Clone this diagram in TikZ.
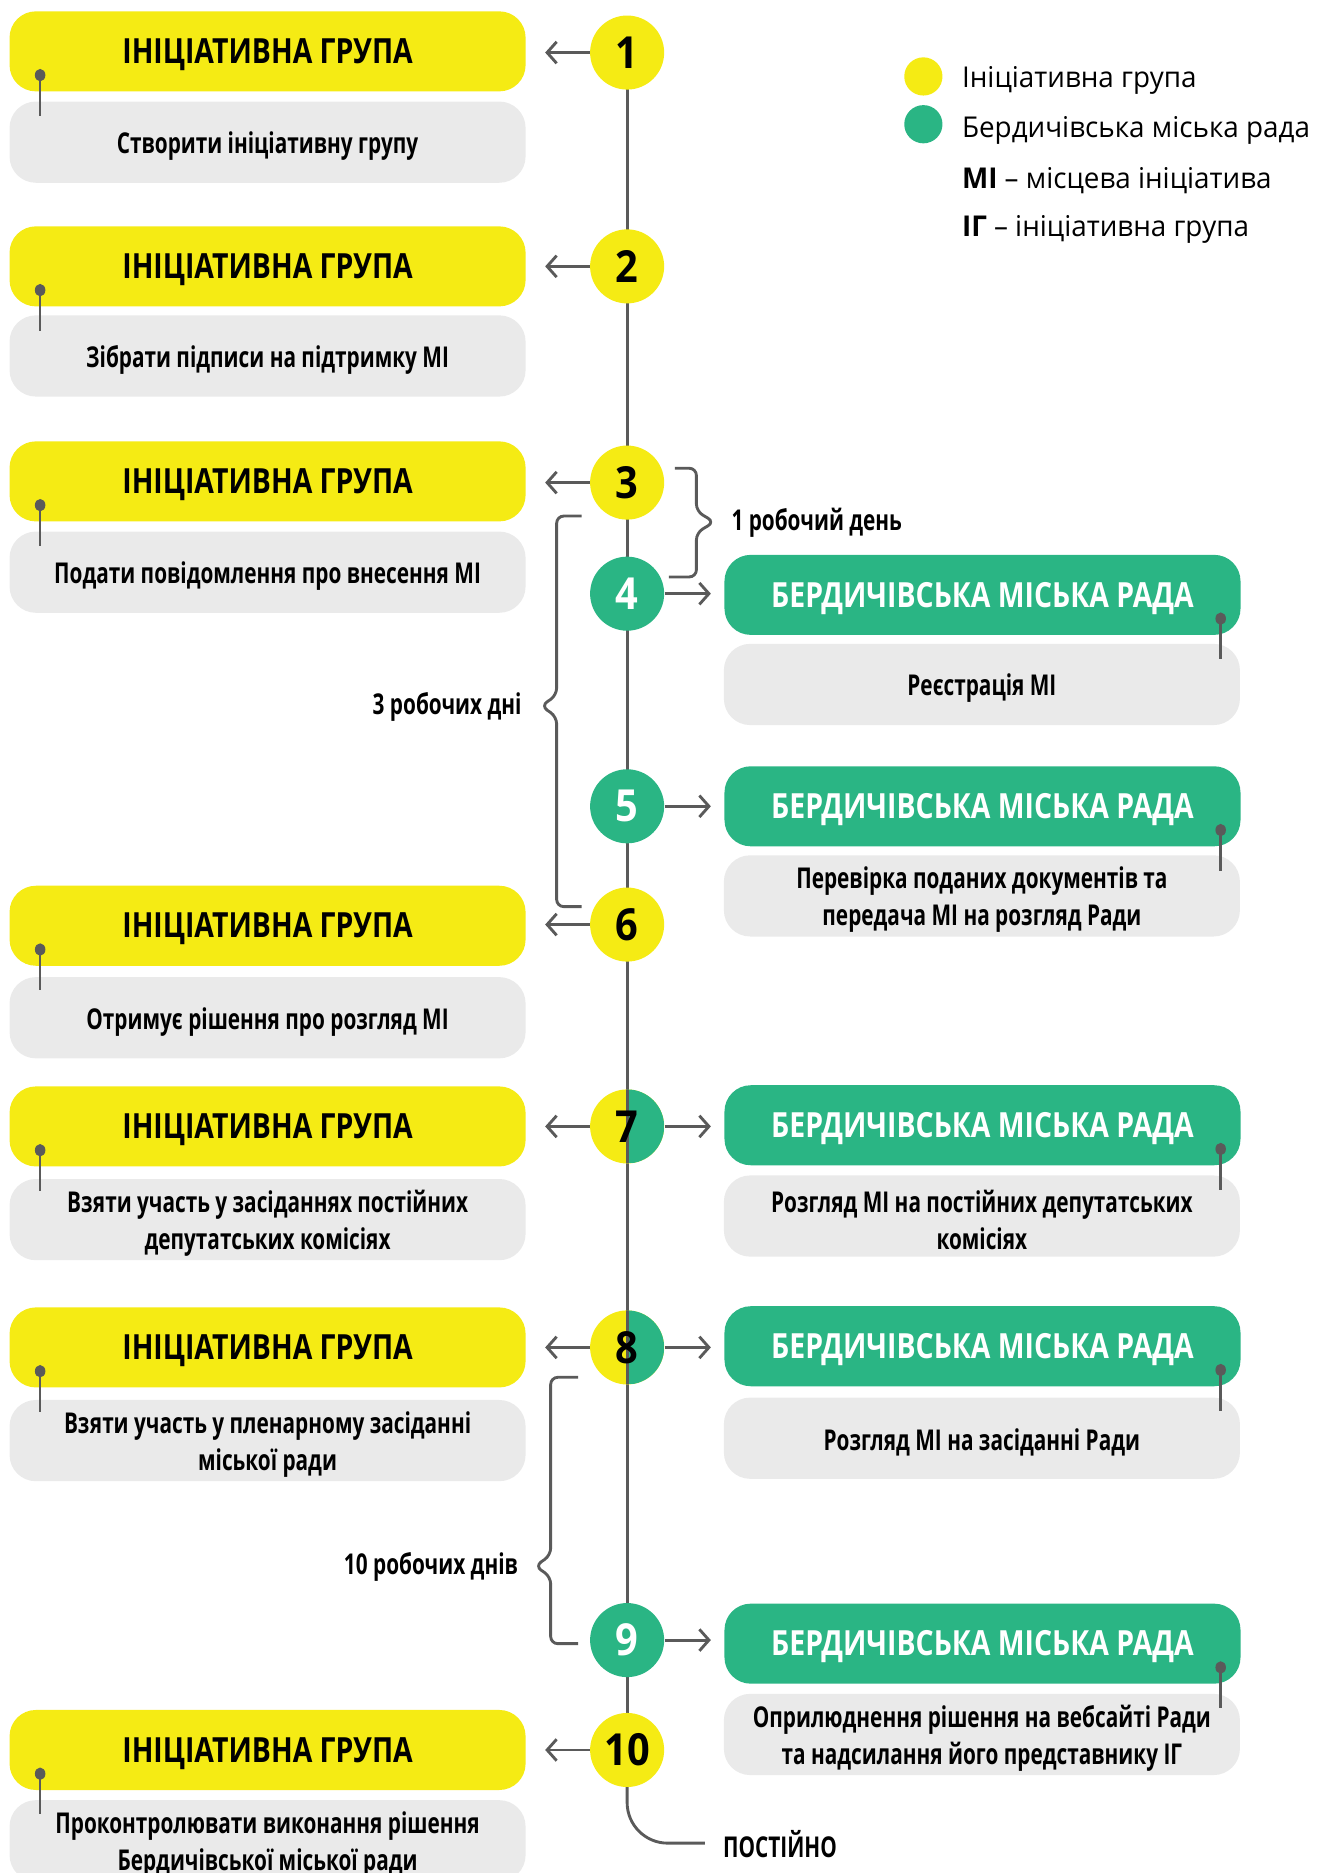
\documentclass[tikz,border=0pt]{standalone}
\usepackage{fontspec}
\setmainfont{Open Sans}
\newfontfamily\hdrfont[FakeStretch=0.82]{Open Sans}
\newfontfamily\bodyfont[FakeStretch=0.725]{Open Sans}
\newfontfamily\numfont[FakeStretch=0.9]{Open Sans}
\newfontfamily\legfont[FakeStretch=0.97]{Open Sans}
\usetikzlibrary{arrows.meta,calc}
\definecolor{ylw}{RGB}{245,235,20}
\definecolor{grn}{RGB}{42,181,132}
\definecolor{lgray}{RGB}{234,234,234}
\definecolor{ln}{RGB}{90,90,90}
\tikzset{
  hdr/.style={rounded corners=11pt, minimum width=216pt, minimum height=33.5pt, inner sep=0pt,
    text height=10.2pt, text depth=0pt,
    font=\hdrfont\bfseries\fontsize{14.5}{17}\selectfont},
  ybox/.style={hdr, fill=ylw, text=black},
  gbox/.style={hdr, fill=grn, text=white},
  desc/.style={rounded corners=11pt, fill=lgray, minimum width=216pt, minimum height=34pt, inner sep=0pt},
  dtext/.style={inner sep=0pt, align=center, yshift=-1.7pt,
    font=\bodyfont\bfseries\fontsize{12}{15.5}\selectfont},
  num/.style={circle, minimum size=31pt, inner sep=0pt, font=\numfont\bfseries\fontsize{18.5}{20}\selectfont},
  ynum/.style={num, fill=ylw, text=black},
  gnum/.style={num, fill=grn, text=white},
  hnum/.style={num, fill=ylw, text=black, path picture={
      \fill[grn] (path picture bounding box.north) rectangle (path picture bounding box.south east);
      \draw[tl] (path picture bounding box.north) -- (path picture bounding box.south);}},
  tl/.style={draw=ln, line width=1.2pt},
  arr/.style={draw=ln, line width=1.2pt, -{Straight Barb[length=4pt,width=9pt,line width=1.2pt]}},
  brace/.style={draw=ln, line width=1.2pt, rounded corners=3pt},
  pinl/.style={draw=ln, line width=1.1pt},
  lbl/.style={font=\bodyfont\bfseries\fontsize{12}{15}\selectfont, inner sep=0pt},
  leg/.style={font=\legfont\fontsize{12}{15}\selectfont, inner sep=0pt, anchor=west},
}
\begin{document}
\begin{tikzpicture}[x=0.5pt,y=-0.5pt]
\useasboundingbox (0,0) rectangle (1109,1568);
\clip (0,0) rectangle (1109,1568);

% timeline (behind circles)
\coordinate (t1) at (525,44);
\coordinate (t10) at (525,1465);
\draw[tl] (t1) -- (t10);
\coordinate (post) at (590,1543);
\draw[tl, rounded corners=17pt] (t10) |- (post);

% circles
\node[ynum] (c1) at (525,44) {1};
\node[ynum] (c2) at (525,223) {2};
\node[ynum] (c3) at (525,404) {3};
\node[gnum] (c4) at (525,497) {4};
\node[gnum] (c5) at (525,675) {5};
\node[ynum] (c6) at (525,774) {6};
\node[hnum] (c7) at (525,943) {7};
\node[hnum] (c8) at (525,1128) {8};
\node[gnum] (c9) at (525,1373) {9};
\node[ynum] (c10) at (525,1465) {10};

% left (yellow) boxes
\node[ybox] (ig1) at (224,43) {ІНІЦІАТИВНА ГРУПА};
\node[desc] (d1) at (224,119) {};
\node[dtext] (dt1) at (d1) {Створити ініціативну групу};
\node[ybox] (ig2) at (224,223) {ІНІЦІАТИВНА ГРУПА};
\node[desc] (d2) at (224,298) {};
\node[dtext] (dt2) at (d2) {Зібрати підписи на підтримку МІ};
\node[ybox] (ig3) at (224,403) {ІНІЦІАТИВНА ГРУПА};
\node[desc] (d3) at (224,479) {};
\node[dtext] (dt3) at (d3) {Подати повідомлення про внесення МІ};
\node[ybox] (ig6) at (224,775) {ІНІЦІАТИВНА ГРУПА};
\node[desc] (d6) at (224,852) {};
\node[dtext] (dt6) at (d6) {Отримує рішення про розгляд МІ};
\node[ybox] (ig7) at (224,943) {ІНІЦІАТИВНА ГРУПА};
\node[desc] (d7) at (224,1021) {};
\node[dtext] (dt7) at (d7) {Взяти участь у засіданнях постійних\\депутатських комісіях};
\node[ybox] (ig8) at (224,1128) {ІНІЦІАТИВНА ГРУПА};
\node[desc] (d8) at (224,1206) {};
\node[dtext] (dt8) at (d8) {Взяти участь у пленарному засіданні\\міської ради};
\node[ybox] (ig10) at (224,1465) {ІНІЦІАТИВНА ГРУПА};
\node[desc] (d10) at (224,1541) {};
\node[dtext] (dt10) at (d10) {Проконтролювати виконання рішення\\Бердичівської міської ради};

% right (green) boxes
\node[gbox] (r4) at (822.5,498) {БЕРДИЧІВСЬКА МІСЬКА РАДА};
\node[desc] (e4) at (822,573) {};
\node[dtext] (et4) at (e4) {Реєстрація МІ};
\node[gbox] (r5) at (822.5,675) {БЕРДИЧІВСЬКА МІСЬКА РАДА};
\node[desc] (e5) at (822,750) {};
\node[dtext] (et5) at (e5) {Перевірка поданих документів та\\передача МІ на розгляд Ради};
\node[gbox] (r7) at (822.5,942) {БЕРДИЧІВСЬКА МІСЬКА РАДА};
\node[desc] (e7) at (822,1018) {};
\node[dtext] (et7) at (e7) {Розгляд МІ на постійних депутатських\\комісіях};
\node[gbox] (r8) at (822.5,1127) {БЕРДИЧІВСЬКА МІСЬКА РАДА};
\node[desc] (e8) at (822,1204) {};
\node[dtext] (et8) at (e8) {Розгляд МІ на засіданні Ради};
\node[gbox] (r9) at (822.5,1376) {БЕРДИЧІВСЬКА МІСЬКА РАДА};
\node[desc] (e9) at (822,1452) {};
\node[dtext] (et9) at (e9) {Оприлюднення рішення на вебсайті Ради\\та надсилання його представнику ІГ};

% pins
\foreach \b in {ig1,ig2,ig3,ig6,ig7,ig8,ig10}{
  \draw[pinl] ([xshift=13pt,yshift=7pt]\b.south west) -- ++(0,34);
  \fill[ln] ([xshift=13pt,yshift=7pt]\b.south west) ellipse (2.2pt and 2.6pt);
}
\foreach \b in {r4,r5,r7,r8,r9}{
  \draw[pinl] ([xshift=-8.5pt,yshift=7pt]\b.south east) -- ++(0,34);
  \fill[ln] ([xshift=-8.5pt,yshift=7pt]\b.south east) ellipse (2.2pt and 2.6pt);
}

% arrows to the left
\foreach \c/\b in {c1/ig1,c2/ig2,c3/ig3,c6/ig6,c7/ig7,c8/ig8,c10/ig10}{
  \draw[arr, shorten >=8pt] (\c.west) -- (\c.west -| \b.east);
}
% arrows to the right
\foreach \c/\b in {c4/r4,c5/r5,c7/r7,c8/r8,c9/r9}{
  \draw[arr, shorten >=5.5pt] (\c.east) -- (\c.east -| \b.west);
}

% braces
\draw[brace] (565,392) -- (583,392) -- (583,428) -- (598,437) -- (583,446) -- (583,483) -- (560,483);
\node[lbl, anchor=west] (b1) at (612,438) {1 робочий день};
\draw[brace] (487,432) -- (466,432) -- (466,582) -- (453,591) -- (466,600) -- (466,759) -- (487,759);
\node[lbl, anchor=east] (b3) at (437,592) {3 робочих дні};
\draw[brace] (484,1153) -- (461,1153) -- (461,1302) -- (448,1311) -- (461,1320) -- (461,1376) -- (484,1376);
\node[lbl, anchor=east] (b10) at (434,1312) {10 робочих днів};

\node[lbl, anchor=west] (pst) at (605,1544) {ПОСТІЙНО};

% legend
\node[circle, fill=ylw, minimum size=16pt, inner sep=0pt] (lg1) at (773,64) {};
\node[circle, fill=grn, minimum size=16pt, inner sep=0pt] (lg2) at (773,104) {};
\node[leg] (lt1) at (805,67) {Ініціативна група};
\node[leg] (lt2) at (805,109) {Бердичівська міська рада};
\node[leg] (lt3) at (805,151) {\textbf{МІ} – місцева ініціатива};
\node[leg] (lt4) at (805,192) {\textbf{ІГ} – ініціативна група};
\end{tikzpicture}
\end{document}
